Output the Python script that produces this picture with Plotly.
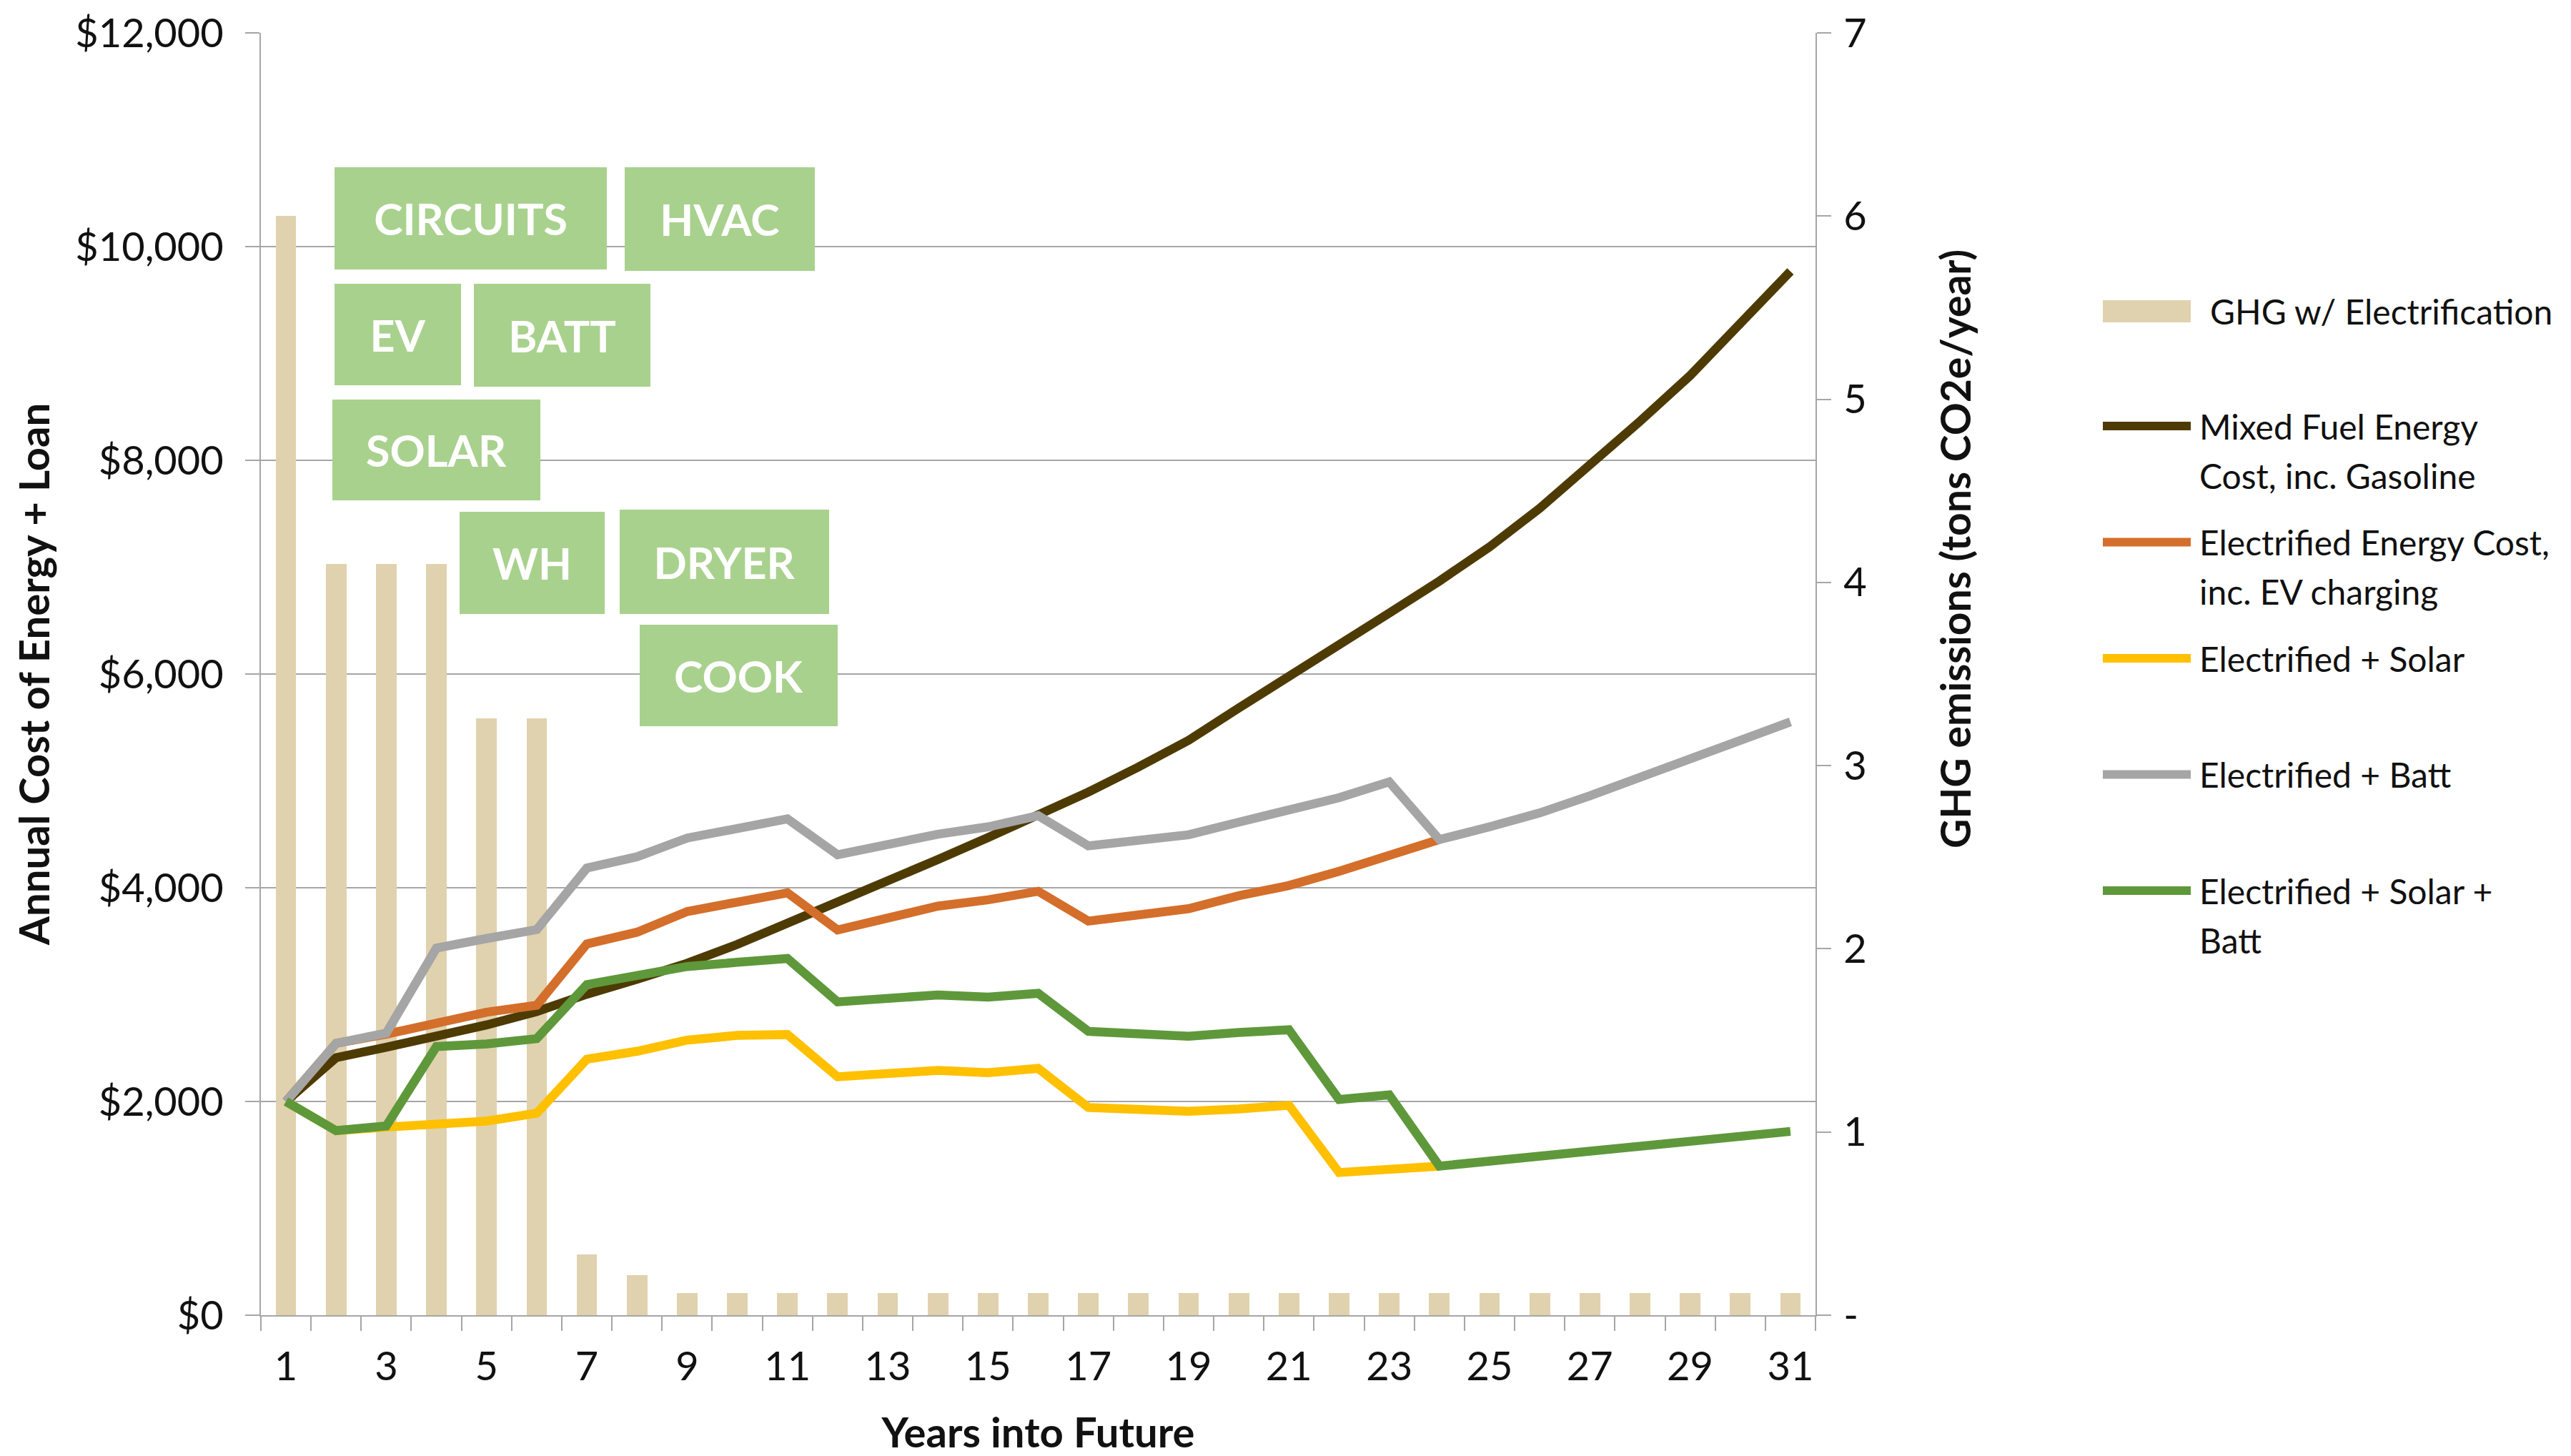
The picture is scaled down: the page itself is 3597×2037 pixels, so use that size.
import plotly.graph_objects as go

# ---- data -------------------------------------------------------------
years = list(range(1, 32))

# annual GHG emissions after electrification (tons CO2e / year)
ghg_tons = [6.00, 4.10, 4.10, 4.10, 3.26, 3.26, 0.33, 0.22, 0.12, 0.12,
            0.12, 0.12, 0.12, 0.12, 0.12, 0.12, 0.12, 0.12, 0.12, 0.12,
            0.12, 0.12, 0.12, 0.12, 0.12, 0.12, 0.12, 0.12, 0.12, 0.12, 0.12]

# annual cost of energy + loan ($)
mixed_fuel = [2000, 2410, 2508, 2609, 2716, 2841, 3004, 3144, 3293, 3470,
              3665, 3864, 4065, 4264, 4470, 4677, 4895, 5130, 5380, 5682,
              5985, 6290, 6570, 6870, 7190, 7550, 7950, 8365, 8793, 9276, 9768]

electrified = [2000, 2544, 2630, 2737, 2835, 2900, 3474, 3584, 3777, 3866,
               3953, 3605, 3709, 3828, 3887, 3967, 3688, 3745, 3804, 3925,
               4021, 4154, 4294, 4451, None, None, None, None, None, None, None]

electrified_solar = [2000, 1727, 1760, 1786, 1816, 1890, 2395, 2470, 2574, 2618,
                     2626, 2231, 2261, 2291, 2270, 2309, 1944, 1935, 1908, 1930,
                     1964, 1335, 1365, 1395, None, None, None, None, None, None, None]

electrified_batt = [2000, 2544, 2640, 3435, 3525, 3608, 4184, 4290, 4465, 4560,
                    4644, 4309, 4407, 4501, 4570, 4674, 4392, 4451, 4496, 4614,
                    4733, 4843, 4991, 4451, 4570, 4700, 4860, 5030, 5200, 5380, 5552]

electrified_solar_batt = [2000, 1727, 1771, 2514, 2538, 2588, 3094, 3168, 3263, 3302,
                          3338, 2932, 2967, 2997, 2976, 3012, 2656, 2641, 2611, 2645,
                          2671, 2018, 2062, 1395, 1440, 1485, 1530, 1578, 1625, 1672, 1720]

bar_name = "GHG w/ Electrification"
line_names = [
    "Mixed Fuel Energy Cost, inc. Gasoline",
    "Electrified Energy Cost, inc. EV charging",
    "Electrified + Solar",
    "Electrified + Batt",
    "Electrified + Solar + Batt",
]
line_values = [mixed_fuel, electrified, electrified_solar,
               electrified_batt, electrified_solar_batt]

# upgrade labels shown as green tags
upgrade_labels = ["CIRCUITS", "HVAC", "EV", "BATT", "SOLAR", "WH", "DRYER", "COOK"]

# ---- style ------------------------------------------------------------
FONT = "Lato"
TEXT = "#111111"
GRID = "#A6A6A6"
BAR_COLOR = "#E0D2AE"
TAG_COLOR = "#A9D18E"
line_colors = ["#4E3B04", "#D46E2B", "#FFC000", "#A5A5A5", "#5E983B"]
legend_lines = [
    ["Mixed Fuel Energy", "Cost, inc. Gasoline"],
    ["Electrified Energy Cost,", "inc. EV charging"],
    ["Electrified + Solar"],
    ["Electrified + Batt"],
    ["Electrified + Solar +", "Batt"],
]

W, H = 3597, 2037
PLOT_L, PLOT_R, PLOT_T, PLOT_B = 365, 2540, 46, 1840


def px_x(p):
    return (p - PLOT_L) / (PLOT_R - PLOT_L)


def px_y(p):
    return (PLOT_B - p) / (PLOT_B - PLOT_T)


fig = go.Figure()

# emissions bars on the right-hand (tons) axis, drawn underneath
fig.add_trace(go.Bar(
    x=years, y=ghg_tons, name=bar_name, yaxis="y",
    marker=dict(color=BAR_COLOR, line=dict(width=0)),
    width=0.41, showlegend=False,
))

# cost lines on the left-hand ($) axis
for name, vals, color in zip(line_names, line_values, line_colors):
    fig.add_trace(go.Scatter(
        x=years, y=vals, name=name, yaxis="y2", mode="lines",
        line=dict(color=color, width=12.5), connectgaps=False,
        showlegend=False,
    ))

# green upgrade tags: (x centre in years, y centre in $, box width, box height)
tag_boxes = [
    (4.68, 10264, 381, 143),
    (9.65, 10258, 266, 145),
    (3.23, 9177, 177, 142),
    (6.51, 9171, 247, 144),
    (4.00, 8097, 291, 141),
    (5.91, 7040, 203, 143),
    (9.74, 7050, 293, 146),
    (10.03, 5987, 277, 142),
]
annotations = []
for label, (cx, cy, bw, bh) in zip(upgrade_labels, tag_boxes):
    annotations.append(dict(
        x=cx, y=cy, xref="x", yref="y2", text=f"<b>{label}</b>",
        showarrow=False, xanchor="center", yanchor="middle",
        width=bw, height=bh, bgcolor=TAG_COLOR, borderpad=0, borderwidth=0,
        font=dict(family=FONT, size=61, color="#FFFFFF"),
    ))

# right-hand axis title, set a little above the axis centre
annotations.append(dict(
    x=px_x(2735), y=px_y(768), xref="paper", yref="paper",
    text="<b>GHG emissions (tons CO2e/year)</b>", textangle=-90,
    showarrow=False, xanchor="center", yanchor="middle",
    font=dict(family=FONT, size=57, color=TEXT),
))

# legend on the right
shapes = []
SW_X0, SW_X1 = 2942, 3065
shapes.append(dict(type="rect", xref="paper", yref="paper",
                   x0=px_x(SW_X0), x1=px_x(SW_X1), y0=px_y(451), y1=px_y(420),
                   fillcolor=BAR_COLOR, line=dict(width=0)))
annotations.append(dict(
    x=px_x(3090), y=px_y(435), xref="paper", yref="paper", text=bar_name,
    showarrow=False, xanchor="left", yanchor="middle",
    font=dict(family=FONT, size=48, color=TEXT),
))
legend_y0, legend_step, text_step = 596, 162.5, 69
for i, (lines, color) in enumerate(zip(legend_lines, line_colors)):
    sy = legend_y0 + i * legend_step
    shapes.append(dict(type="line", xref="paper", yref="paper",
                       x0=px_x(SW_X0), x1=px_x(SW_X1), y0=px_y(sy), y1=px_y(sy),
                       line=dict(color=color, width=12)))
    for j, txt in enumerate(lines):
        annotations.append(dict(
            x=px_x(3075), y=px_y(sy + j * text_step), xref="paper", yref="paper",
            text=txt, showarrow=False, xanchor="left", yanchor="middle",
            font=dict(family=FONT, size=48, color=TEXT),
        ))

tick_font = dict(family=FONT, size=56, color=TEXT)
title_font = dict(family=FONT, size=58, color=TEXT)

fig.update_layout(
    width=W, height=H,
    margin=dict(l=PLOT_L, r=W - PLOT_R, t=PLOT_T, b=H - PLOT_B, autoexpand=False),
    paper_bgcolor="white", plot_bgcolor="white",
    font=dict(family=FONT, color=TEXT),
    bargap=0.0, showlegend=False,
    xaxis=dict(
        range=[0.5, 31.5], tickmode="array", tickvals=years[::2],
        ticktext=[str(v) for v in years[::2]], ticks="",
        tickfont=tick_font, ticklabelstandoff=22,
        showgrid=False, zeroline=False,
        showline=True, linecolor=GRID, linewidth=2,
        minor=dict(tickmode="array", tickvals=[k + 0.5 for k in range(32)],
                   ticks="outside", ticklen=20, tickwidth=2, tickcolor=GRID,
                   showgrid=False),
        title=dict(text="<b>Years into Future</b>", font=title_font, standoff=57),
        anchor="y",
    ),
    yaxis=dict(
        side="right", range=[0, 7], tickmode="array", tickvals=list(range(8)),
        ticktext=["-"] + [str(v) for v in range(1, 8)],
        ticks="outside", ticklen=20, tickwidth=2, tickcolor=GRID,
        tickfont=tick_font, ticklabelstandoff=6,
        showgrid=False, zeroline=False,
        showline=True, linecolor=GRID, linewidth=2,
    ),
    yaxis2=dict(
        overlaying="y", side="left", range=[0, 12000], dtick=2000,
        tickprefix="$", tickformat=",d",
        ticks="outside", ticklen=20, tickwidth=2, tickcolor=GRID,
        tickfont=tick_font, ticklabelstandoff=19,
        showgrid=True, gridcolor=GRID, gridwidth=2,
        zeroline=False, showline=True, linecolor=GRID, linewidth=2,
        title=dict(text="<b>Annual Cost of Energy + Loan</b>", font=title_font,
                   standoff=17),
    ),
    annotations=annotations,
    shapes=shapes,
)

fig.write_html("out.html")
